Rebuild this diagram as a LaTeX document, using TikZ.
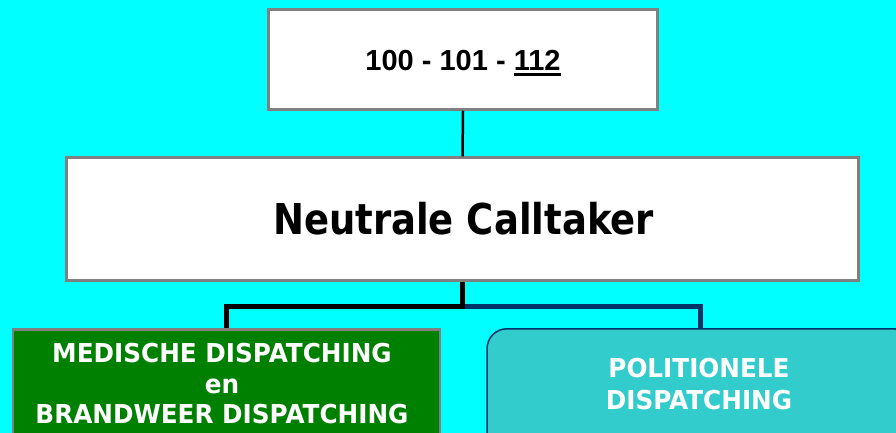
\documentclass[tikz,border=0pt]{standalone}
\usepackage{fontspec}
\usepackage{graphicx}
\setmainfont{DejaVu Sans}
\newfontfamily\arialb{Liberation Sans}[BoldFont=* Bold]
\definecolor{bgcyan}{RGB}{0,255,255}
\definecolor{boxgray}{RGB}{128,128,128}
\definecolor{dgreen}{RGB}{0,128,0}
\definecolor{teal2}{RGB}{51,204,204}
\definecolor{navyline}{RGB}{0,51,102}
\newcommand\myul[1]{\setbox0\hbox{#1}\rlap{\rule[-5.5pt]{\wd0}{3pt}}\box0}
\newcommand\wline[1]{\scalebox{0.95}[1]{#1}}
\tikzset{
  whitebox/.style={draw=boxgray, line width=2.5pt, fill=white, inner sep=0pt},
  greenbox/.style={draw=boxgray, line width=2.5pt, fill=dgreen, inner sep=0pt},
  tealbox/.style={draw=navyline, line width=1.5pt, fill=teal2, rounded corners=20pt, inner sep=0pt},
  wtext/.style={text=white, font=\fontsize{26}{30}\selectfont\bfseries, inner sep=0pt, anchor=base},
  conn/.style={line width=5pt},
}
\begin{document}
\begin{tikzpicture}[x=1pt,y=-1pt]
\useasboundingbox (0,0) rectangle (896,433);
\clip (0,0) rectangle (896,433);
\fill[bgcyan] (0,0) rectangle (896,433);
% boxes
\node[whitebox, minimum width=389pt, minimum height=100pt] (top) at (463,59.5) {};
\node[font=\arialb\fontsize{29}{34}\selectfont\bfseries, anchor=base, inner sep=0pt] (toptext) at (463,71) {100 - 101 - \myul{112}};
\node[whitebox, minimum width=792pt, minimum height=123pt] (big) at (462.5,219) {};
\node[font=\fontsize{42.5}{50}\selectfont\bfseries, inner sep=0pt, anchor=base] (bigtext) at (463.5,234) {\scalebox{0.87}[1]{Neutrale Calltaker}};
\node[greenbox, minimum width=427pt, minimum height=140pt, anchor=north] (med) at (226.5,328) {};
\node[tealbox, minimum width=426pt, minimum height=140pt, anchor=north] (pol) at (700,328) {};
\node[wtext] (med1) at (222,362) {\wline{MEDISCHE DISPATCHING}};
\node[wtext] (med2) at (222,393) {\wline{en}};
\node[wtext] (med3) at (222,423) {\wline{BRANDWEER DISPATCHING}};
\node[wtext] (pol1) at (699,377) {\wline{POLITIONELE}};
\node[wtext] (pol2) at (699,409) {\wline{DISPATCHING}};
% connectors
\draw[line width=2.5pt] (top.south) -- (big.north);
\coordinate (j) at ([yshift=-24.5pt]big.south);
\draw[conn, navyline] (j) -| (pol.north);
\draw[conn, black] (big.south) -- (j) -| (med.north);
\end{tikzpicture}
\end{document}
